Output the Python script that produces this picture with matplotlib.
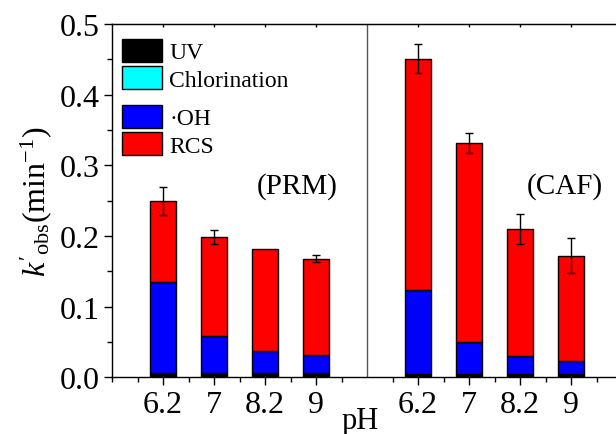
import numpy as np
import matplotlib.pyplot as plt
from matplotlib.patches import Patch

plt.rcParams['font.family'] = ['Liberation Serif', 'DejaVu Serif']
plt.rcParams['mathtext.fontset'] = 'custom'
plt.rcParams['mathtext.rm'] = 'Liberation Serif'
plt.rcParams['mathtext.it'] = 'Liberation Serif:italic'

# pH categories for the two compounds
ph_labels = ["6.2", "7", "8.2", "9"]
prm_pos = [1, 2, 3, 4]
caf_pos = [6, 7, 8, 9]

# contributions to k'obs (min-1)
prm_uv = [0.005, 0.005, 0.005, 0.005]
prm_cl = [0.0005, 0.0005, 0.0005, 0.0005]
prm_oh = [0.129, 0.053, 0.032, 0.026]
prm_rcs = [0.1145, 0.1395, 0.1435, 0.136]
prm_err = [0.020, 0.010, 0.0, 0.005]

caf_uv = [0.004, 0.004, 0.004, 0.004]
caf_cl = [0.0005, 0.0005, 0.0005, 0.0005]
caf_oh = [0.1195, 0.045, 0.0255, 0.018]
caf_rcs = [0.327, 0.2825, 0.18, 0.1495]
caf_err = [0.020, 0.014, 0.021, 0.025]

fig = plt.figure(figsize=(6.16, 4.35), dpi=100)
ax = fig.add_axes([112 / 616, 56.7 / 435, 510 / 616, 353.3 / 435])

w = 0.5
for pos, uv, cl, oh, rcs, err in [(prm_pos, prm_uv, prm_cl, prm_oh, prm_rcs, prm_err),
                                  (caf_pos, caf_uv, caf_cl, caf_oh, caf_rcs, caf_err)]:
    uv = np.array(uv)
    cl = np.array(cl)
    oh = np.array(oh)
    rcs = np.array(rcs)
    kw = dict(width=w, edgecolor='black', linewidth=1)
    ax.bar(pos, uv, color='black', **kw)
    ax.bar(pos, cl, bottom=uv, color='cyan', **kw)
    ax.bar(pos, oh, bottom=uv + cl, color='blue', **kw)
    ax.bar(pos, rcs, bottom=uv + cl + oh, color='red', **kw)
    total = uv + cl + oh + rcs
    e = np.array(err)
    ax.errorbar(pos, total, yerr=np.where(e > 0, e, np.nan), fmt='none',
                ecolor='black', elinewidth=1, capsize=3.2, capthick=1)

ax.axvline(5, color='#555555', lw=1)

ax.set_xlim(0, 10)
ax.set_ylim(0, 0.5)
ax.set_xticks(prm_pos + caf_pos)
ax.set_xticklabels(ph_labels + ph_labels)
ax.set_xticks(np.arange(0, 10.01, 0.5)[[i for i in range(21) if i % 2 == 1 or i == 0]], minor=True)
ax.set_yticks(np.arange(0, 0.51, 0.1))
ax.set_yticks(np.arange(0, 0.51, 0.05), minor=True)
ax.yaxis.set_major_formatter(plt.FormatStrFormatter('%.1f'))
ax.tick_params(which='major', direction='out', length=6, width=1, labelsize=23, pad=3)
ax.tick_params(which='minor', direction='out', length=3.5, width=1)
for s in ax.spines.values():
    s.set_linewidth(1)

top = ax.secondary_xaxis('top')
top.set_xticks(prm_pos + caf_pos)
top.tick_params(direction='in', length=2.5, width=1, labeltop=False)
top.set_xticklabels([])

ax.set_ylabel(r"$k'_{\mathrm{obs}}$(min$^{-1}$)", fontsize=23, labelpad=4)
fig.text(360 / 616, 1 - 429 / 435, "pH", fontsize=22, ha='center', va='baseline')

ax.text(3.63, 0.272, "(PRM)", fontsize=21, ha='center', va='center')
ax.text(8.88, 0.272, "(CAF)", fontsize=21, ha='center', va='center')

h1 = [Patch(facecolor='black', edgecolor='black', lw=1, label='UV'),
      Patch(facecolor='cyan', edgecolor='black', lw=1, label='Chlorination')]
h2 = [Patch(facecolor='blue', edgecolor='black', lw=1, label='·OH'),
      Patch(facecolor='red', edgecolor='black', lw=1, label='RCS')]
lkw = dict(frameon=False, fontsize=17, handlelength=1.7, handleheight=1.1,
           handletextpad=0.3, labelspacing=0.12, borderpad=0, borderaxespad=0,
           loc='upper left')
leg1 = ax.legend(handles=h1, bbox_to_anchor=(122 / 616, 1 - 40 / 435),
                 bbox_transform=fig.transFigure, **lkw)
ax.add_artist(leg1)
ax.legend(handles=h2, bbox_to_anchor=(122 / 616, 1 - 106 / 435),
          bbox_transform=fig.transFigure, **lkw)

fig.savefig("out.png", dpi=100)
